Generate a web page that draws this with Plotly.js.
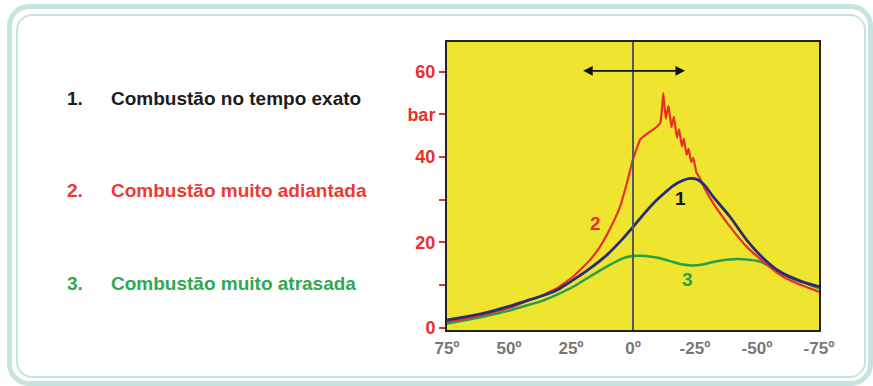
<!DOCTYPE html>
<html>
<head>
<meta charset="utf-8">
<script src="https://cdn.plot.ly/plotly-3.0.1.min.js"></script>
<style>
  html, body { margin: 0; padding: 0; background: #ffffff; }
  #wrap { position: relative; width: 873px; height: 386px; overflow: hidden; }
  .frame-outer { position: absolute; left: 7px; top: 4px; width: 856px; height: 372px;
    border: 5px solid #c5e4e0; border-radius: 22px; }
  .frame-inner { position: absolute; left: 16px; top: 14px; width: 846px; height: 360px;
    border: 2px solid #c5e4e0; border-radius: 16px; }
  #chart { position: absolute; left: 0; top: 0; width: 873px; height: 386px; }
</style>
</head>
<body>
<div id="wrap">
  <div class="frame-outer"></div>
  <div class="frame-inner"></div>
  <div id="chart"></div>
</div>
<script>
// Crank angle (degrees) and cylinder pressure (bar)
const angle1 = [75, 70, 62.5, 55, 50, 43, 37.5, 30.8, 24.1, 17.3, 10.6, 3.9, 0, -4, -8, -12, -16, -20, -23, -26, -29, -32.3, -39.1, -45.8, -52.5, -59.3, -66, -75];
const pressure1 = [1.8, 2.3, 3.1, 4.2, 5.0, 6.3, 7.3, 8.8, 11.2, 13.9, 17.0, 21.0, 23.6, 26.4, 29.0, 31.2, 33.2, 34.5, 35.0, 34.7, 33.3, 30.7, 26.0, 20.6, 16.3, 13.1, 11.2, 9.6];

const angle2 = [75, 70, 62.5, 55, 50, 43, 37.5, 30.8, 24.1, 17.3, 13.3, 10.6, 7.9, 5.2, 2.5, 0, -3, -6, -9, -11, -11.8, -12.2, -13.2, -14.3, -15.5, -16.5, -17.7, -18.6, -19.7, -20.5, -21.6, -22.4, -23.5, -24.3, -25.5, -27, -29, -32.3, -39.1, -45.8, -52.5, -59.3, -66, -75];
const pressure2 = [1.4, 1.9, 2.7, 3.8, 4.6, 6.2, 7.3, 9.2, 12.0, 15.9, 19.0, 21.7, 24.8, 28.4, 33.8, 39.5, 44.2, 45.6, 46.8, 48.0, 52.0, 55.0, 49.0, 52.0, 47.0, 49.5, 44.5, 46.5, 42.5, 44.3, 40.5, 42.0, 38.8, 39.8, 36.5, 35.0, 32.5, 29.2, 23.7, 19.0, 15.5, 12.4, 10.4, 8.4];

const angle3 = [75, 70, 62.5, 55, 50, 43, 37.5, 30.8, 24.1, 17.3, 10.6, 3.9, 0, -5, -10, -15, -20, -24, -28, -32.3, -39, -45.8, -51.2, -56.6, -63.3, -75];
const pressure3 = [1.0, 1.5, 2.3, 3.3, 4.0, 5.2, 6.1, 7.7, 9.6, 12.0, 14.3, 16.3, 16.8, 16.8, 16.4, 15.6, 14.8, 14.6, 14.8, 15.4, 16.0, 16.0, 15.5, 13.9, 12.0, 9.2];

const xTickVals = [75, 50, 25, 0, -25, -50, -75];
const xTickText = ['75º', '50º', '25º', '0º', '-25º', '-50º', '-75º'];
const yTickVals = [0, 10, 20, 30, 40, 50, 60];
const yTickText = ['0', '', '20', '', '40', 'bar', '60'];

const legendNums = ['1.', '2.', '3.'];
const legendTexts = ['Combustão no tempo exato', 'Combustão muito adiantada', 'Combustão muito atrasada'];
const curveLabels = ['1', '2', '3'];

const colBlue = '#2a2a78';
const colRed = '#e8302a';
const colGreen = '#27a048';
const textCols = ['#1c1c1c', '#ec3a33', '#2ea94e'];

const W = 873, H = 386;
const px = v => v / W;
const py = v => 1 - v / H;

const traces = [
  {x: angle3, y: pressure3, mode: 'lines', line: {color: colGreen, width: 2.5, shape: 'spline', smoothing: 0.8}, hoverinfo: 'skip'},
  {x: angle2, y: pressure2, mode: 'lines', line: {color: colRed, width: 2.2, shape: 'spline', smoothing: 0.3}, hoverinfo: 'skip'},
  {x: angle1, y: pressure1, mode: 'lines', line: {color: colBlue, width: 2.8, shape: 'spline', smoothing: 0.8}, hoverinfo: 'skip'}
];

const font = 'Arial, "Liberation Sans", sans-serif';
const annotations = [];
const rowY = [98, 190, 283];
for (let i = 0; i < 3; i++) {
  annotations.push({xref: 'paper', yref: 'paper', x: px(65), y: py(rowY[i]), xanchor: 'left', yanchor: 'middle',
    text: legendNums[i], showarrow: false, font: {family: font, size: 19, color: textCols[i], weight: 'bold'}});
  annotations.push({xref: 'paper', yref: 'paper', x: px(109), y: py(rowY[i]), xanchor: 'left', yanchor: 'middle',
    text: legendTexts[i], showarrow: false, font: {family: font, size: 19, color: textCols[i], weight: 'bold'}});
}
// curve number labels
const labelPos = [[-19, 30.2], [15.3, 24.5], [-21.8, 11.2]];
const labelCols = ['#111111', colRed, colGreen];
for (let i = 0; i < 3; i++) {
  annotations.push({xref: 'x', yref: 'y', x: labelPos[i][0], y: labelPos[i][1], text: curveLabels[i], showarrow: false,
    font: {family: font, size: 19, color: labelCols[i], weight: 'bold'}});
}
// double arrow
annotations.push({xref: 'x', yref: 'y', axref: 'x', ayref: 'y', x: -21, y: 60.2, ax: 20.7, ay: 60.2, text: '',
  showarrow: true, arrowhead: 2, startarrowhead: 2, arrowside: 'end+start', arrowsize: 1.2, arrowwidth: 1.6, arrowcolor: '#111111'});

const layout = {
  width: W, height: H,
  margin: {l: 0, r: 0, t: 0, b: 0},
  paper_bgcolor: 'rgba(0,0,0,0)',
  plot_bgcolor: '#f0e52e',
  showlegend: false,
  xaxis: {
    domain: [px(447), px(819)], range: [75, -75], autorange: false,
    tickvals: xTickVals, ticktext: xTickText, ticks: '', showgrid: false, zeroline: false,
    showline: true, linecolor: '#222222', linewidth: 2, mirror: true, ticklabelstandoff: 2,
    tickfont: {family: font, size: 17, color: '#777777', weight: 'bold'}, fixedrange: true
  },
  yaxis: {
    domain: [py(330), py(42)], range: [-0.54, 66.96], autorange: false,
    tickvals: yTickVals, ticktext: yTickText, ticks: 'outside', ticklen: 6, tickwidth: 2, tickcolor: '#e8302a',
    showgrid: false, zeroline: false,
    showline: true, linecolor: '#222222', linewidth: 2, mirror: true,
    tickfont: {family: font, size: 18, color: '#e8302a', weight: 'bold'}, fixedrange: true
  },
  shapes: [
    {type: 'line', xref: 'x', yref: 'paper', x0: 0, x1: 0, y0: py(330), y1: py(42), line: {color: '#555566', width: 2}}
  ],
  annotations: annotations
};

Plotly.newPlot('chart', traces, layout, {displayModeBar: false, staticPlot: true});
</script>
</body>
</html>
